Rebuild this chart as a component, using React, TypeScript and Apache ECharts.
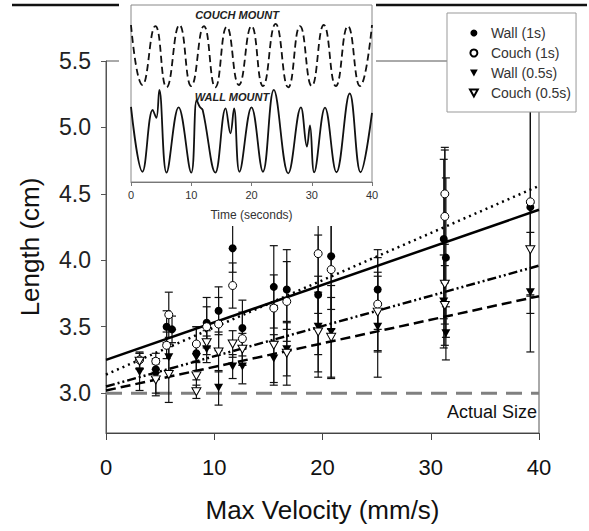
import React, { useEffect, useRef } from 'react';
import * as echarts from 'echarts';

const FONT = "'Liberation Sans', Arial, Helvetica, sans-serif";

// ---- main chart ticks
const yTicks = [3.0, 3.5, 4.0, 4.5, 5.0, 5.5];

// ---- Wall (1s) : filled circles
const wall1X = [4.6, 5.6, 6.1, 8.35, 9.3, 10.4, 11.7, 12.6, 15.5, 16.7, 19.6, 20.8, 25.1, 31.2, 31.4, 39.2];
const wall1Y = [3.18, 3.50, 3.48, 3.30, 3.53, 3.62, 4.09, 3.49, 3.80, 3.78, 3.74, 4.03, 3.78, 4.16, 4.02, 4.40];
const wall1Err = [0.06, 0.12, 0.10, 0.20, 0.19, 0.18, 0.18, 0.21, 0.31, 0.30, 0.45, 0.40, 0.30, 0.60, 0.60, 0.80];

// ---- Couch (1s) : open circles
const couch1X = [3.1, 4.6, 5.6, 5.8, 8.35, 9.3, 10.4, 11.7, 12.6, 15.5, 16.7, 19.6, 20.8, 25.1, 31.3, 31.3, 39.2];
const couch1Y = [3.25, 3.24, 3.36, 3.59, 3.37, 3.50, 3.52, 3.81, 3.41, 3.64, 3.69, 4.05, 3.93, 3.67, 4.50, 4.33, 4.44];
const couch1Err = [0.06, 0.06, 0.10, 0.17, 0.13, 0.15, 0.20, 0.17, 0.20, 0.25, 0.30, 0.45, 0.45, 0.35, 0.35, 0.50, 0.70];

// ---- Wall (0.5s) : filled triangles
const wall05X = [3.1, 4.6, 5.8, 8.35, 9.3, 10.4, 11.7, 12.6, 15.5, 16.7, 19.6, 20.8, 25.1, 31.2, 31.4, 39.2];
const wall05Y = [3.16, 3.13, 3.27, 3.27, 3.33, 3.04, 3.20, 3.20, 3.26, 3.33, 3.50, 3.46, 3.50, 3.69, 3.45, 3.76];
const wall05Err = [0.14, 0.13, 0.10, 0.10, 0.10, 0.13, 0.09, 0.13, 0.18, 0.20, 0.38, 0.35, 0.38, 0.35, 0.20, 0.45];

// ---- Couch (0.5s) : open triangles
const couch05X = [3.1, 4.6, 5.8, 8.35, 8.35, 9.3, 10.4, 11.7, 12.6, 15.5, 16.7, 19.6, 20.8, 25.1, 31.3, 31.3, 39.2];
const couch05Y = [3.24, 3.10, 3.14, 3.13, 3.01, 3.38, 3.31, 3.37, 3.33, 3.36, 3.30, 3.46, 3.42, 3.61, 3.82, 3.66, 4.08];
const couch05Err = [0.06, 0.12, 0.21, 0.10, 0.05, 0.09, 0.15, 0.10, 0.12, 0.30, 0.24, 0.30, 0.30, 0.30, 0.30, 0.30, 0.35];

// ---- linear fits (values at x = 0 and x = 40)
const fitX = [0, 40];
const wall1Fit = [3.25, 4.38];
const couch1Fit = [3.14, 4.56];
const couch05Fit = [3.05, 3.96];
const wall05Fit = [3.02, 3.73];
const actualSize = [3.0, 3.0];

// ---- inset: time traces (arbitrary amplitude units)
const couchT = [0, 1.9, 4.05, 5.9, 8.05, 10, 12.1, 14, 15.9, 17.9, 20, 21.9, 24, 26.1, 28.05, 30, 32, 34, 36, 38, 40];
const couchV = [8.87, 5.48, 8.81, 5.35, 8.87, 5.42, 8.81, 5.35, 8.77, 5.48, 8.81, 5.42, 8.93, 5.35, 8.81, 5.42, 8.87, 5.42, 8.81, 5.42, 8.87];
const wallT = [0, 1.9, 3.6, 4.2, 4.7, 5.9, 7.9, 10, 10.9, 11.4, 11.9, 14, 15.7, 16.5, 17.1, 18, 20, 21.9, 23.7, 26.1, 28.2, 29.2, 29.7, 30.4, 32.2, 34.1, 36.3, 38.1, 40];
const wallV = [4.24, 0.58, 4.07, 3.62, 5.2, 0.53, 4.22, 0.53, 4.63, 4.25, 4.07, 0.53, 4.16, 2.75, 4.16, 0.58, 4.22, 0.58, 5.2, 0.49, 4.22, 2.0, 3.2, 0.55, 4.2, 0.55, 5.0, 0.55, 3.9];

const TRI = 'path://M0,0L10,0L5,9Z';

const zip = (a: number[], b: number[]) => a.map((v, i) => [v, b[i]]);
const errData = (x: number[], y: number[], e: number[]) => x.map((v, i) => [v, y[i] - e[i], y[i] + e[i]]);

function errorSeries(name: string, data: number[][]) {
  return {
    name,
    type: 'custom',
    xAxisIndex: 0,
    yAxisIndex: 0,
    z: 3,
    silent: true,
    data,
    encode: { x: 0, y: [1, 2] },
    renderItem: (_p: any, api: any) => {
      const x = api.value(0);
      const lo = api.value(1);
      const hi = api.value(2);
      const a = api.coord([x, hi]);
      const b = api.coord([x, lo]);
      const w = 4;
      const st = { stroke: '#111', lineWidth: 1.2 };
      return {
        type: 'group',
        children: [
          { type: 'line', shape: { x1: a[0], y1: a[1], x2: b[0], y2: b[1] }, style: st },
          { type: 'line', shape: { x1: a[0] - w, y1: a[1], x2: a[0] + w, y2: a[1] }, style: st },
          { type: 'line', shape: { x1: b[0] - w, y1: b[1], x2: b[0] + w, y2: b[1] }, style: st },
        ],
      };
    },
  };
}

function fitSeries(name: string, vals: number[], lineStyle: any, z = 3) {
  return {
    name,
    type: 'line',
    xAxisIndex: 0,
    yAxisIndex: 0,
    data: zip(fitX, vals),
    showSymbol: false,
    symbol: 'none',
    silent: true,
    z,
    lineStyle,
  };
}

export default function App() {
  const ref = useRef<HTMLDivElement>(null);
  useEffect(() => {
    document.body.style.margin = '0';
    const chart = echarts.init(ref.current!, null, { renderer: 'svg' });
    const option: any = {
      animation: false,
      textStyle: { fontFamily: FONT },
      grid: [
        { left: 106, top: 61, width: 433, height: 372, show: true, borderColor: '#555', borderWidth: 1, z: 0, outerBoundsMode: 'none', containLabel: false },
        { left: 131, top: 5, width: 241, height: 177, show: true, borderColor: '#888', borderWidth: 1, z: 6, outerBoundsMode: 'none', containLabel: false },
      ],
      xAxis: [
        {
          gridIndex: 0, type: 'value', min: 0, max: 40, interval: 10, z: 1,
          axisLine: { show: true, lineStyle: { color: '#444', width: 1 } },
          axisTick: { show: true, length: 7, lineStyle: { color: '#444' } },
          axisLabel: { fontSize: 22, color: '#111', margin: 23, fontFamily: FONT },
          splitLine: { show: false },
          name: 'Max Velocity (mm/s)', nameLocation: 'middle', nameGap: 64,
          nameTextStyle: { fontSize: 26, color: '#111', fontFamily: FONT },
        },
        {
          gridIndex: 1, type: 'value', min: 0, max: 40, interval: 10, z: 6,
          axisLine: { show: true, lineStyle: { color: '#777', width: 1 } },
          axisTick: { show: true, length: 4, lineStyle: { color: '#777' } },
          axisLabel: { fontSize: 11, color: '#333', margin: 7, fontFamily: FONT },
          splitLine: { show: false },
          name: 'Time (seconds)', nameLocation: 'middle', nameGap: 27,
          nameTextStyle: { fontSize: 12, color: '#333', fontFamily: FONT },
        },
      ],
      yAxis: [
        {
          gridIndex: 0, type: 'value', min: 2.7, max: 5.5, z: 1,
          axisLine: { show: true, lineStyle: { color: '#555', width: 1 } },
          axisTick: { show: true, length: 5, customValues: yTicks, lineStyle: { color: '#555' } },
          axisLabel: { fontSize: 23, color: '#222', margin: 15, customValues: yTicks, formatter: (v: number) => v.toFixed(1), fontFamily: FONT },
          splitLine: { show: false },
          name: 'Length (cm)', nameLocation: 'middle', nameGap: 63,
          nameTextStyle: { fontSize: 26, color: '#111', fontFamily: FONT },
        },
        { gridIndex: 1, type: 'value', min: 0, max: 10, show: false, z: 6 },
      ],
      legend: {
        data: ['Wall (1s)', 'Couch (1s)', 'Wall (0.5s)', 'Couch (0.5s)'],
        orient: 'vertical', left: 447, top: 13, align: 'left',
        padding: [13, 5, 12, 22],
        itemWidth: 24, itemHeight: 7, itemGap: 6,
        backgroundColor: '#fff', borderColor: '#999', borderWidth: 1,
        textStyle: { fontSize: 14, color: '#333', fontFamily: FONT },
        z: 8,
      },
      graphic: [
        { type: 'line', z: 1, silent: true, shape: { x1: 12, y1: 5, x2: 587, y2: 5 }, style: { stroke: '#111', lineWidth: 2.5 } },
        { type: 'rect', z: 5, silent: true, shape: { x: 119, y: 1, width: 257, height: 225 }, style: { fill: '#fff' } },
        { type: 'text', z: 7, silent: true, x: 237, y: 15, style: { text: 'COUCH MOUNT', font: `italic bold 11px ${FONT}`, fill: '#222', align: 'center', verticalAlign: 'middle', textAlign: 'center', textVerticalAlign: 'middle' } },
        { type: 'text', z: 7, silent: true, x: 232, y: 97, style: { text: 'WALL MOUNT', font: `italic bold 11px ${FONT}`, fill: '#222', align: 'center', verticalAlign: 'middle', textAlign: 'center', textVerticalAlign: 'middle' } },
        { type: 'text', z: 7, silent: true, x: 537, y: 412, style: { text: 'Actual Size', font: `18px ${FONT}`, fill: '#111', align: 'right', verticalAlign: 'middle', textAlign: 'right', textVerticalAlign: 'middle' } },
      ],
      series: [
        fitSeries('actual', actualSize, { color: '#808080', width: 3, type: [16, 9] }, 2),
        errorSeries('e1', errData(wall1X, wall1Y, wall1Err)),
        errorSeries('e2', errData(couch1X, couch1Y, couch1Err)),
        errorSeries('e3', errData(wall05X, wall05Y, wall05Err)),
        errorSeries('e4', errData(couch05X, couch05Y, couch05Err)),
        fitSeries('fit1', wall1Fit, { color: '#000', width: 2.5, type: 'solid' }),
        fitSeries('fit2', couch1Fit, { color: '#000', width: 2.5, type: [2, 4] }),
        fitSeries('fit3', couch05Fit, { color: '#000', width: 2.5, type: [9, 3, 2, 3, 2, 3] }),
        fitSeries('fit4', wall05Fit, { color: '#000', width: 2.5, type: [10, 5] }),
        { name: 'Wall (1s)', type: 'scatter', xAxisIndex: 0, yAxisIndex: 0, z: 4, symbol: 'circle', symbolSize: 8, itemStyle: { color: '#000', opacity: 1 }, data: zip(wall1X, wall1Y) },
        { name: 'Couch (1s)', type: 'scatter', xAxisIndex: 0, yAxisIndex: 0, z: 4, symbol: 'circle', symbolSize: 8, itemStyle: { color: '#fff', borderColor: '#000', borderWidth: 1, opacity: 1 }, data: zip(couch1X, couch1Y) },
        { name: 'Wall (0.5s)', type: 'scatter', xAxisIndex: 0, yAxisIndex: 0, z: 4, symbol: TRI, symbolSize: [9, 8], itemStyle: { color: '#000', opacity: 1 }, data: zip(wall05X, wall05Y) },
        { name: 'Couch (0.5s)', type: 'scatter', xAxisIndex: 0, yAxisIndex: 0, z: 4, symbol: TRI, symbolSize: [9, 8], itemStyle: { color: '#fff', borderColor: '#000', borderWidth: 1, opacity: 1 }, data: zip(couch05X, couch05Y) },
        { name: 'couchTrace', type: 'line', xAxisIndex: 1, yAxisIndex: 1, z: 7, data: zip(couchT, couchV), smooth: 0.5, showSymbol: false, symbol: 'none', silent: true, lineStyle: { color: '#111', width: 1.8, type: [7, 4] } },
        { name: 'wallTrace', type: 'line', xAxisIndex: 1, yAxisIndex: 1, z: 7, data: zip(wallT, wallV), smooth: 0.4, showSymbol: false, symbol: 'none', silent: true, lineStyle: { color: '#111', width: 1.8 } },
      ],
    };
    chart.setOption(option);
    return () => chart.dispose();
  }, []);
  return <div ref={ref} style={{ width: 589, height: 531 }} />;
}
